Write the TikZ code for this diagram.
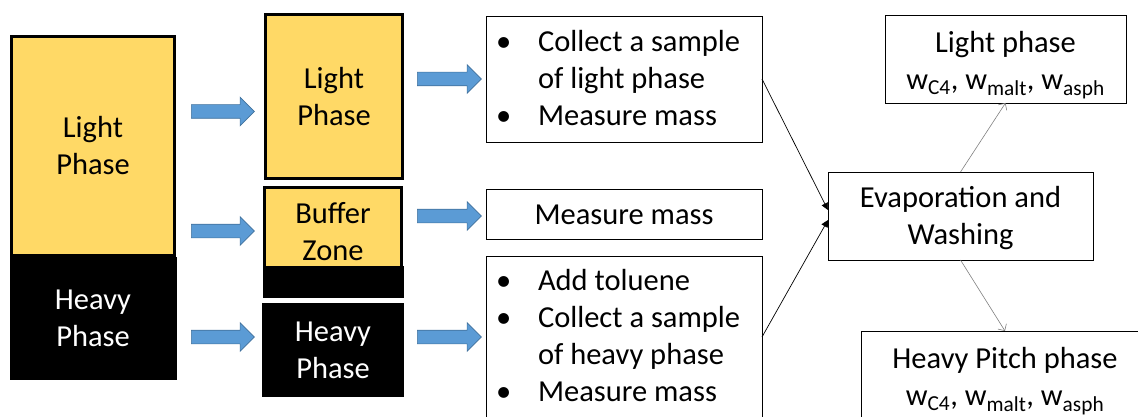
\documentclass[tikz,border=0pt]{standalone}
\usepackage{fontspec}
\setmainfont{Carlito}
\usetikzlibrary{shapes.arrows,arrows.meta,calc}
\definecolor{phaseyel}{HTML}{FFD966}
\definecolor{arrowblue}{HTML}{5B9BD5}
\definecolor{arrowedge}{HTML}{41719C}
\definecolor{linkgrey}{HTML}{7F7F7F}
\newcommand\rows[2][3pt]{\raisebox{-#1}[\height][\depth]{\begin{tabular}{@{}c@{}}#2\end{tabular}}}
\newcommand\bullets[2][2pt]{\raisebox{-#1}[\height][\depth]{\begin{tabular}{@{}p{39pt}@{}p{211pt}@{}}#2\end{tabular}}}
\newcommand\bul{\hspace{-3pt}\textbullet}
\begin{document}
\begin{tikzpicture}[x=1pt,y=-1pt,
  every node/.style={font=\fontsize{30.5}{37}\selectfont, inner sep=0pt, outer sep=0pt},
  ylbox/.style={fill=phaseyel, draw=black, line width=3pt},
  blkbox/.style={fill=black, draw=black, line width=1pt, text=white},
  txtbox/.style={draw=black, line width=0.9pt, fill=white},
  blockarrow/.style={single arrow, single arrow head extend=7.5pt,
    text height=6.5pt, text depth=6.5pt,
    fill=arrowblue, draw=arrowedge, line width=0.6pt, inner sep=0pt},
  link/.style={black, line width=0.7pt, -{Triangle[length=7pt,width=7pt]}},
  greylink/.style={linkgrey, line width=0.6pt, -{Straight Barb[length=5pt,width=10pt]}}
]
\clip (0,0) rectangle (1138,417);
% left column
\node[blkbox, minimum width=166, minimum height=122] (heavyL) at (93,318) {\rows{Heavy\\Phase}};
\node[ylbox, minimum width=163, minimum height=219] (lightL) at (93,146) {\rows{Light\\Phase}};
% middle column
\node[ylbox, minimum width=137, minimum height=164] (lightM) at (334,96.5) {\rows{Light\\Phase}};
\node[ylbox, minimum width=137, minimum height=89] (bufY) at (333,232) {\rows{Buffer\\Zone}};
\node[blkbox, minimum width=140, minimum height=31] (bufB) at (333,281.5) {};
\node[blkbox, minimum width=141, minimum height=93] (heavyM) at (333,350) {\rows{Heavy\\Phase}};
% block arrows
\node[blockarrow, minimum height=63] (a1) at (219.5,111.5) {};
\node[blockarrow, minimum height=63] (a2) at (219.5,231) {};
\node[blockarrow, minimum height=63] (a3) at (219.5,337) {};
\node[blockarrow, minimum height=64] (a4) at (446,79) {};
\node[blockarrow, minimum height=64] (a5) at (446,216) {};
\node[blockarrow, minimum height=64] (a6) at (446,337) {};
% text boxes
\node[txtbox, minimum width=276, minimum height=126] (collectL) at (624,79)
  {\bullets{\bul & Collect a sample\\ & of light phase\\ \bul & Measure mass}};
\node[txtbox, minimum width=276, minimum height=50] (massB) at (624,214) {\rows{Measure mass}};
\node[txtbox, minimum width=276, minimum height=162] (collectH) at (624,337)
  {\bullets[1.5pt]{\bul & Add toluene\\ \bul & Collect a sample\\ & of heavy phase\\ \bul & Measure mass}};
\node[txtbox, minimum width=265, minimum height=88] (evap) at (960.5,216) {\rows{Evaporation and\\Washing}};
\node[txtbox, minimum width=241, minimum height=88] (lightR) at (1005.5,59)
  {\rows[4.5pt]{Light phase\\w\textsubscript{C4}, w\textsubscript{malt}, w\textsubscript{asph}}};
\node[txtbox, minimum width=288, minimum height=88] (heavyR) at (1005,375)
  {\rows[4.5pt]{Heavy Pitch phase\\w\textsubscript{C4}, w\textsubscript{malt}, w\textsubscript{asph}}};
% connectors
\draw[link] (collectL.east) -- ($(evap.west)+(0,-6)$);
\draw[link] (collectH.east) -- ($(evap.west)+(0,4)$);
\draw[greylink] (evap.north) -- (lightR.south);
\draw[greylink] (evap.south) -- (heavyR.north);
\end{tikzpicture}
\end{document}
